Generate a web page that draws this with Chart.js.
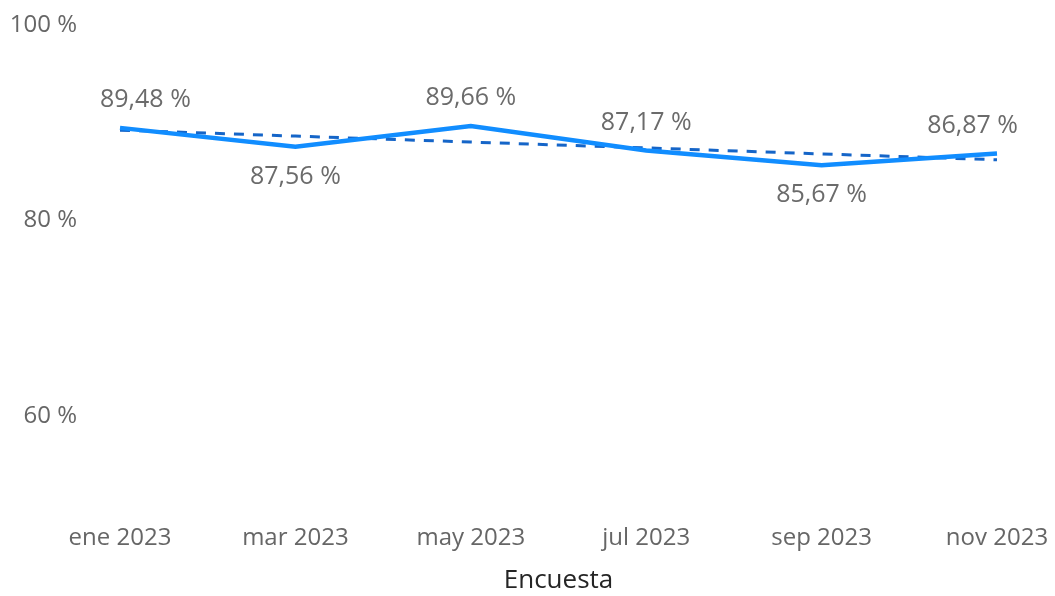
<!DOCTYPE html>
<html>
<head>
<meta charset="utf-8">
<script src="https://cdn.jsdelivr.net/npm/chart.js@4"></script>
<style>
  html, body { margin: 0; padding: 0; background: #fff; }
  #wrap { width: 1055px; height: 596px; }
</style>
</head>
<body>
<div id="wrap"><canvas id="myChart"></canvas></div>
<script>
const meses = ['ene 2023', 'mar 2023', 'may 2023', 'jul 2023', 'sep 2023', 'nov 2023'];
const satisfaccion = [89.48, 87.56, 89.66, 87.17, 85.67, 86.87];
const tendencia = [89.25, 88.64, 88.03, 87.43, 86.82, 86.22];
const yTicks = [60, 80, 100];

// where each value label sits relative to its point
const labelAbove = [true, false, true, true, false, true];

const fmt = v => v.toFixed(2).replace('.', ',') + ' %';

const valueLabels = {
    id: 'valueLabels',
    afterDatasetsDraw(chart) {
        const c = chart.ctx;
        const area = chart.chartArea;
        const meta = chart.getDatasetMeta(0);
        c.save();
        c.font = '25px "Open Sans", sans-serif';
        c.fillStyle = '#6b6b6b';
        c.textAlign = 'center';
        c.textBaseline = 'middle';
        meta.data.forEach((pt, i) => {
            const txt = fmt(satisfaccion[i]);
            const w = c.measureText(txt).width;
            // keep edge labels close to the plot, like the original
            let x = pt.x;
            x = Math.max(x, area.left - 20 + w / 2);
            x = Math.min(x, area.right + 21 - w / 2);
            const dy = labelAbove[i] ? -28 : 30;
            c.fillText(txt, x, pt.y + dy);
        });
        c.restore();
    }
};

const ctx = document.getElementById('myChart');
new Chart(ctx, {
    type: 'line',
    data: {
        labels: meses,
        datasets: [
            {
                label: 'Satisfacción',
                data: satisfaccion,
                borderColor: '#118dff',
                borderWidth: 4.5,
                pointRadius: 0,
                tension: 0,
                order: 1
            },
            {
                label: 'Tendencia',
                data: tendencia,
                borderColor: '#1565c8',
                borderWidth: 3,
                borderDash: [10, 9],
                pointRadius: 0,
                tension: 0,
                order: 2
            }
        ]
    },
    options: {
        responsive: true,
        maintainAspectRatio: false,
        animation: false,
        layout: { padding: { top: 25, right: 58, bottom: 0, left: 0 } },
        plugins: {
            legend: { display: false },
            tooltip: { enabled: false }
        },
        scales: {
            x: {
                offset: false,
                grid: { display: false, drawTicks: false },
                border: { display: false },
                afterFit(scale) {
                    scale.paddingLeft = 0;
                    scale.paddingRight = 0;
                },
                ticks: {
                    color: '#666',
                    font: { family: 'Open Sans', size: 24 },
                    padding: 10,
                    maxRotation: 0,
                    autoSkip: false
                },
                title: {
                    display: true,
                    text: 'Encuesta',
                    color: '#252525',
                    font: { family: 'Open Sans', size: 26 },
                    padding: { top: 2, bottom: 0 }
                }
            },
            y: {
                min: 50,
                max: 100,
                grid: { display: false, drawTicks: false },
                border: { display: false },
                afterBuildTicks(scale) {
                    scale.ticks = yTicks.map(v => ({ value: v }));
                },
                afterFit(scale) {
                    scale.width = 120;
                    scale.paddingTop = 0;
                    scale.paddingBottom = 0;
                },
                ticks: {
                    color: '#666',
                    font: { family: 'Open Sans', size: 24 },
                    padding: 43,
                    callback: v => v + ' %'
                }
            }
        }
    },
    plugins: [valueLabels]
});
</script>
</body>
</html>
